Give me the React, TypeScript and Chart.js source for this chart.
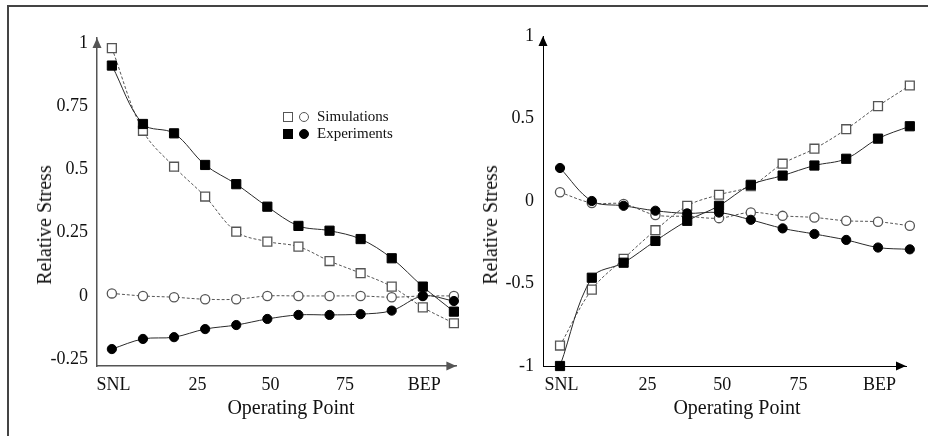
import React, { useEffect, useRef } from "react";
import { Chart, registerables } from "chart.js";

Chart.register(...registerables);

// ---------- data ----------
const X_INDEX = [0, 1, 2, 3, 4, 5, 6, 7, 8, 9, 10, 11];
const X_TICK_AT = [0.05, 2.75, 5.1, 7.5, 10.05];
const X_TICK_LABELS = ["SNL", "25", "50", "75", "BEP"];

const LEFT_Y_TICKS = [-0.25, 0, 0.25, 0.5, 0.75, 1];
const RIGHT_Y_TICKS = [-1, -0.5, 0, 0.5, 1];

const LEFT_SIM_SQUARE = [0.98, 0.653, 0.511, 0.393, 0.254, 0.215, 0.195, 0.138, 0.09, 0.037, -0.045, -0.108];
const LEFT_EXP_SQUARE = [0.911, 0.68, 0.643, 0.518, 0.442, 0.353, 0.277, 0.258, 0.225, 0.149, 0.037, -0.062];
const LEFT_SIM_CIRCLE = [0.01, 0.0, -0.005, -0.013, -0.013, 0.0, 0.0, 0.0, 0.0, -0.005, 0.0, 0.0];
const LEFT_EXP_CIRCLE = [-0.21, -0.17, -0.163, -0.131, -0.115, -0.091, -0.075, -0.075, -0.072, -0.058, 0.0, -0.02];

const RIGHT_SIM_SQUARE = [-0.876, -0.537, -0.35, -0.177, -0.029, 0.038, 0.09, 0.226, 0.317, 0.435, 0.575, 0.7];
const RIGHT_EXP_SQUARE = [-1, -0.465, -0.374, -0.242, -0.12, -0.029, 0.098, 0.154, 0.215, 0.256, 0.378, 0.453];
const RIGHT_SIM_CIRCLE = [0.053, -0.012, -0.018, -0.085, -0.093, -0.104, -0.069, -0.09, -0.1, -0.12, -0.126, -0.15];
const RIGHT_EXP_CIRCLE = [0.2, 0.0, -0.029, -0.059, -0.075, -0.07, -0.114, -0.166, -0.2, -0.236, -0.282, -0.293];

const Y_TITLE = "Relative Stress";
const X_TITLE = "Operating Point";
const LEGEND_SIM = "Simulations";
const LEGEND_EXP = "Experiments";

// ---------- styling ----------
const FONT = '"Liberation Serif", "Times New Roman", Times, serif';

const toPts = (ys: number[]) => X_INDEX.map((x, i) => ({ x, y: ys[i] }));

function makeDatasets(simSq: number[], expSq: number[], simCi: number[], expCi: number[]) {
  const exp = (data: number[], style: string, r: number) => ({
    data: toPts(data),
    borderColor: "#2a2a2a",
    borderWidth: 1,
    tension: 0.35,
    pointStyle: style,
    pointRadius: r,
    pointBackgroundColor: "#000",
    pointBorderColor: "#000",
    pointBorderWidth: 1,
    clip: false as const,
  });
  const sim = (data: number[], style: string, r: number) => ({
    data: toPts(data),
    borderColor: "#555",
    borderWidth: 1,
    borderDash: [3, 2],
    tension: 0.35,
    pointStyle: style,
    pointRadius: r,
    pointBackgroundColor: "#fff",
    pointBorderColor: "#555",
    pointBorderWidth: 1.3,
    clip: false as const,
  });
  return [
    exp(expSq, "rect", 6.5),
    exp(expCi, "circle", 4.6),
    sim(simSq, "rect", 6.3),
    sim(simCi, "circle", 4.6),
  ];
}

const arrowPlugin = {
  id: "axisArrows",
  afterDraw(chart: any, _args: any, opts: any) {
    const { ctx, chartArea } = chart;
    const { left, top, right, bottom } = chartArea;
    const L = 10;
    const W = 4.5;
    ctx.save();
    ctx.fillStyle = opts.color || "#000";
    ctx.beginPath();
    ctx.moveTo(left, top);
    ctx.lineTo(left - W, top + L);
    ctx.lineTo(left + W, top + L);
    ctx.closePath();
    ctx.fill();
    ctx.beginPath();
    ctx.moveTo(right, bottom);
    ctx.lineTo(right - L, bottom - W);
    ctx.lineTo(right - L, bottom + W);
    ctx.closePath();
    ctx.fill();
    ctx.restore();
  },
};

type PanelProps = {
  datasets: any[];
  yMin: number;
  yMax: number;
  yTicks: number[];
  xMin: number;
  xMax: number;
  yWidth: number;
  padTop: number;
  padRight: number;
  axisColor: string;
  axisWidth: number;
  left: number;
};

function Panel(p: PanelProps) {
  const ref = useRef<HTMLCanvasElement | null>(null);
  useEffect(() => {
    if (!ref.current) return;
    const chart = new Chart(ref.current, {
      type: "line",
      data: { datasets: p.datasets },
      plugins: [arrowPlugin],
      options: {
        animation: false,
        responsive: false,
        maintainAspectRatio: false,
        layout: { padding: { top: p.padTop, right: p.padRight, left: 0, bottom: 0 } },
        plugins: {
          legend: { display: false },
          tooltip: { enabled: false },
          axisArrows: { color: p.axisColor },
        } as any,
        scales: {
          x: {
            type: "linear",
            min: p.xMin,
            max: p.xMax,
            afterBuildTicks: (s: any) => {
              s.ticks = X_TICK_AT.map((v) => ({ value: v }));
            },
            afterFit: (s: any) => {
              s.height = 70;
            },
            ticks: {
              autoSkip: false,
              maxRotation: 0,
              padding: 8,
              color: "#111",
              font: { family: FONT, size: 18 },
              callback: (_v: any, i: number) => X_TICK_LABELS[i],
            },
            grid: { display: false, drawTicks: false },
            border: { display: true, color: p.axisColor, width: p.axisWidth },
          },
          y: {
            type: "linear",
            min: p.yMin,
            max: p.yMax,
            afterBuildTicks: (s: any) => {
              s.ticks = p.yTicks.map((v) => ({ value: v }));
            },
            afterFit: (s: any) => {
              s.width = p.yWidth;
            },
            ticks: {
              autoSkip: false,
              padding: 9,
              color: "#111",
              font: { family: FONT, size: 18 },
              callback: (v: any) => String(v),
            },
            grid: { display: false, drawTicks: false },
            border: { display: true, color: p.axisColor, width: p.axisWidth },
          },
        },
      },
    } as any);
    return () => chart.destroy();
  }, []);
  return (
    <canvas
      ref={ref}
      width={464}
      height={436}
      style={{ position: "absolute", left: p.left, top: 0, width: 464, height: 436 }}
    />
  );
}

const textStyle = (x: number, y: number, size: number, rotate = false): React.CSSProperties => ({
  position: "absolute",
  left: x,
  top: y,
  transform: `translate(-50%, -50%)${rotate ? " rotate(-90deg)" : ""}`,
  fontFamily: FONT,
  fontSize: size,
  color: "#111",
  whiteSpace: "nowrap",
  lineHeight: 1,
});

const markerBase: React.CSSProperties = {
  display: "inline-block",
  boxSizing: "border-box",
  width: 10,
  height: 10,
  verticalAlign: "middle",
};

function LegendRow({ filled, label }: { filled: boolean; label: string }) {
  const sq: React.CSSProperties = {
    ...markerBase,
    background: filled ? "#000" : "#fff",
    border: filled ? "1px solid #000" : "1.2px solid #555",
  };
  const ci: React.CSSProperties = { ...sq, borderRadius: "50%", marginLeft: 6 };
  return (
    <div style={{ height: 17, display: "flex", alignItems: "center" }}>
      <span style={sq} />
      <span style={ci} />
      <span style={{ marginLeft: 8 }}>{label}</span>
    </div>
  );
}

export default function App() {
  return (
    <div
      style={{
        position: "fixed",
        left: 0,
        top: 0,
        width: 928,
        height: 436,
        background: "#fff",
        overflow: "hidden",
      }}
    >
      <div
        style={{
          position: "absolute",
          left: 7,
          top: 5,
          right: 0,
          bottom: 0,
          borderTop: "2px solid #444",
          borderLeft: "2px solid #444",
        }}
      />
      <Panel
        datasets={makeDatasets(LEFT_SIM_SQUARE, LEFT_EXP_SQUARE, LEFT_SIM_CIRCLE, LEFT_EXP_CIRCLE)}
        yMin={-0.277}
        yMax={1.02}
        yTicks={LEFT_Y_TICKS}
        xMin={-0.478}
        xMax={11.08}
        yWidth={97}
        padTop={38}
        padRight={4}
        axisColor="#555"
        axisWidth={1.5}
        left={0}
      />
      <Panel
        datasets={makeDatasets(RIGHT_SIM_SQUARE, RIGHT_EXP_SQUARE, RIGHT_SIM_CIRCLE, RIGHT_EXP_CIRCLE)}
        yMin={-1}
        yMax={1}
        yTicks={RIGHT_Y_TICKS}
        xMin={-0.535}
        xMax={10.88}
        yWidth={79}
        padTop={36}
        padRight={22}
        axisColor="#000"
        axisWidth={1}
        left={464}
      />
      <div style={textStyle(44, 225, 20, true)}>{Y_TITLE}</div>
      <div style={textStyle(291, 407, 20)}>{X_TITLE}</div>
      <div style={textStyle(490, 225, 20, true)}>{Y_TITLE}</div>
      <div style={textStyle(737, 407, 20)}>{X_TITLE}</div>
      <div
        style={{
          position: "absolute",
          left: 283,
          top: 108,
          fontFamily: FONT,
          fontSize: 15,
          color: "#111",
          lineHeight: 1,
        }}
      >
        <LegendRow filled={false} label={LEGEND_SIM} />
        <LegendRow filled={true} label={LEGEND_EXP} />
      </div>
    </div>
  );
}
